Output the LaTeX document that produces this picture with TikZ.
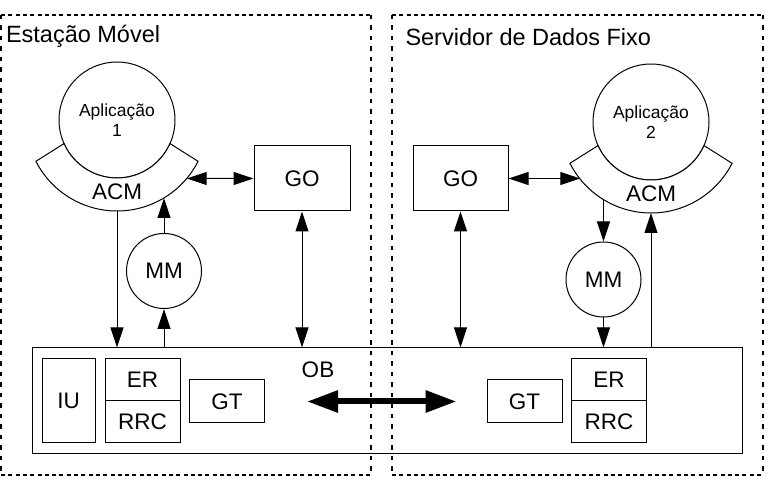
\documentclass[tikz,border=0pt]{standalone}
\usepackage{fontspec}
\setmainfont{Liberation Sans}
\usetikzlibrary{arrows.meta}

\tikzset{%
  block/.style={
    draw,
    inner sep=0pt,
    font=\fontsize{22.5}{26}\selectfont
  },
  app/.style={
    circle,
    draw,
    inner sep=0pt,
    minimum size=116pt,
    align=center,
    font=\fontsize{17.5}{20}\selectfont
  },
  mm/.style={
    circle,
    draw,
    inner sep=0pt,
    minimum size=75pt,
    font=\fontsize{22.5}{26}\selectfont
  },
  label text/.style={
    inner sep=0pt,
    font=\fontsize{22.5}{26}\selectfont
  },
  station h/.style={
    draw,
    line width=1.8pt,
    dash pattern=on 4pt off 3.3pt
  },
  station v/.style={
    draw,
    line width=1.8pt,
    dash pattern=on 4.5pt off 6pt
  },
  title/.style={
    anchor=base west,
    inner sep=0pt,
    font=\fontsize{23.5}{28}\selectfont
  },
  bus link/.style={
    <->,
    line width=6pt,
    >={Triangle[length=31pt, width=21pt]}
  },
}

\begin{document}
\begin{tikzpicture}[x=1pt, y=1pt, line width=1pt, >={Triangle[length=20pt, width=13pt]}]
\useasboundingbox (0,0) rectangle (772,482);

% the two sides
\foreach \l/\r in {1/371, 392/763} {
  \draw [station h] (\l,467) -- (\r,467) (\l,7) -- (\r,7);
  \draw [station v] (\l,467) -- (\l,7) (\r,467) -- (\r,7);
}
\node [title] (title-1) at (5.5,439) {Estação Móvel};
\node [title] (title-2) at (405,436) {Servidor de Dados Fixo};

% OB
\node [block, minimum width=710pt, minimum height=106pt] (ob) at (387,81) {};
\node [label text] (ob-text) at (318,112) {OB};

\node [block, minimum width=53pt, minimum height=84pt] (iu) at (68.5,81) {IU};

\foreach \i/\x in {1/142.5, 2/609} {
  \node [block, minimum width=75pt, minimum height=42pt] (er-\i) at (\x,102) {ER};
  \node [block, minimum width=75pt, minimum height=42pt] (rrc-\i) at (\x,60) {RRC};
}

\foreach \i/\x in {1/227, 2/524.5}
  \node [block, minimum width=75pt, minimum height=43pt] (gt-\i) at (\x,80.5) {GT};

% applications with their ACM
\foreach \i/\x/\y in {1/117/362, 2/651/360} {
  \node [app] (app-\i) at (\x,\y) {Aplicação\\\i};
  \draw [fill=white] ([shift={(204:58)}]app-\i.center)
    -- ([shift={(207:91)}]app-\i.center)
    arc [start angle=207, end angle=333, radius=91]
    -- ([shift={(336:58)}]app-\i.center)
    arc [start angle=336, end angle=204, radius=58] -- cycle;
  \node [label text] (acm-\i) at ([yshift=-72pt]app-\i.center) {ACM};
  \coordinate (acm-\i-south) at ([yshift=-91pt]app-\i.center);
}
\coordinate (acm-1-east) at ([shift={(320:91)}]app-1.center);
\coordinate (acm-1-mm) at ([shift={(301:91)}]app-1.center);
\coordinate (acm-2-west) at ([shift={(219:91)}]app-2.center);
\coordinate (acm-2-mm) at ([shift={(238.5:91)}]app-2.center);

\node [block, minimum width=96pt, minimum height=65pt] (go-1) at (302,303.5) {GO};
\node [block, minimum width=95pt, minimum height=65pt] (go-2) at (460.5,303.5) {GO};

\node [mm] (mm-1) at (164,211) {MM};
\node [mm] (mm-2) at (603.5,202.5) {MM};

% links
\draw [<->] (acm-1-east) -- (go-1.west);
\draw [<->] (go-2.east) -- (go-2.east -| acm-2-west);

\foreach \i in {1,2}
  \draw [<->] (go-\i.south) -- (go-\i.south |- ob.north);

\draw [->] (acm-1-south) -- (acm-1-south |- ob.north);
\draw [->] (mm-1.south |- ob.north) -- (mm-1.south);
\draw [->] (mm-1.north) -- (mm-1.north |- acm-1-mm);

\draw [->] (mm-2.north |- acm-2-mm) -- (mm-2.north);
\draw [->] (mm-2.south) -- (mm-2.south |- ob.north);
\draw [->] (acm-2-south |- ob.north) -- (acm-2-south);

\draw [bus link, shorten <=42pt, shorten >=30pt] (gt-1.east) -- (gt-2.west);

\end{tikzpicture}
\end{document}
